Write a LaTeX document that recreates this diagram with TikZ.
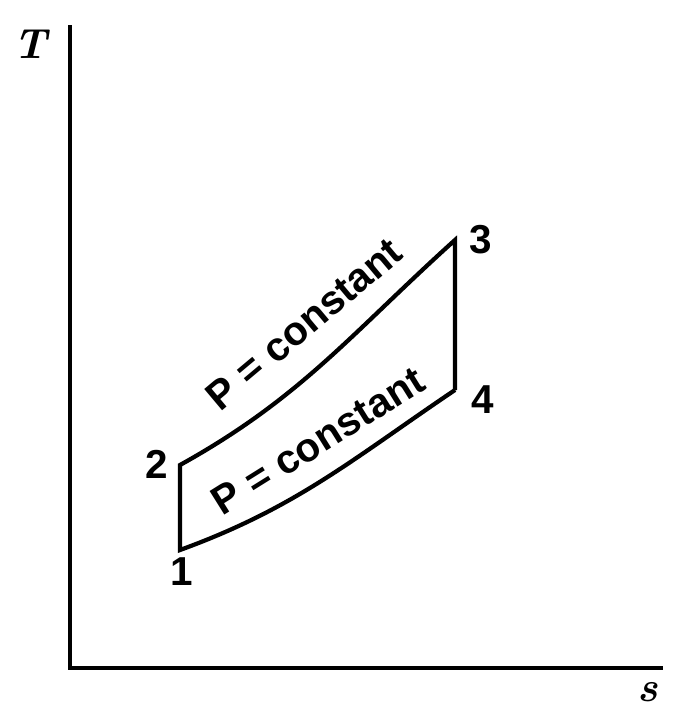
\documentclass[tikz,border=0pt]{standalone}
\usepackage{fontspec}
\newfontfamily\labelfont{Liberation Sans}
\usepackage{tikz}
\usetikzlibrary{calc}

\begin{document}
\begin{tikzpicture}[x=0.02cm,y=-0.02cm]
  \tikzset{
    axisline/.style={line width=2.2pt},
    cycleline/.style={line width=2.4pt, line join=miter},
    axislab/.style={font=\fontsize{24}{26}\selectfont\bfseries},
    statelab/.style={font=\labelfont\bfseries\fontsize{23}{25}\selectfont},
    curvelab/.style={font=\labelfont\bfseries\fontsize{23}{25}\selectfont, inner sep=0pt}
  }
  \useasboundingbox (0,0) rectangle (673,707);
  % ------- axes -------
  \coordinate (origin) at (70,668);
  \coordinate (ytop) at (70,25);
  \coordinate (xend) at (663,668);
  \draw[axisline] (ytop) -- (origin) -- (xend);
  \node[axislab] (tlab) at (32,44) {\textit{T}};
  \node[axislab] (slab) at (648,692) {\textit{s}};
  % ------- the cycle -------
  \coordinate (p1) at (180,550);
  \coordinate (p2) at (180,465);
  \coordinate (p3) at (455,240);
  \coordinate (p4) at (455,390);
  \draw[cycleline] (p4) -- (p3) to[out=-138, in=29] (p2) -- (p1) to[out=20, in=-146] (p4);
  \node[statelab] (n1) at (182,572) {1};
  \node[statelab] (n2) at (157,464) {2};
  \node[statelab] (n3) at (481,240) {3};
  \node[statelab] (n4) at (483,400) {4};
  \node[curvelab, rotate=40] (upper) at (304,324) {P = constant};
  \node[curvelab, rotate=32] (lower) at (318,441) {P = constant};
\end{tikzpicture}
\end{document}
